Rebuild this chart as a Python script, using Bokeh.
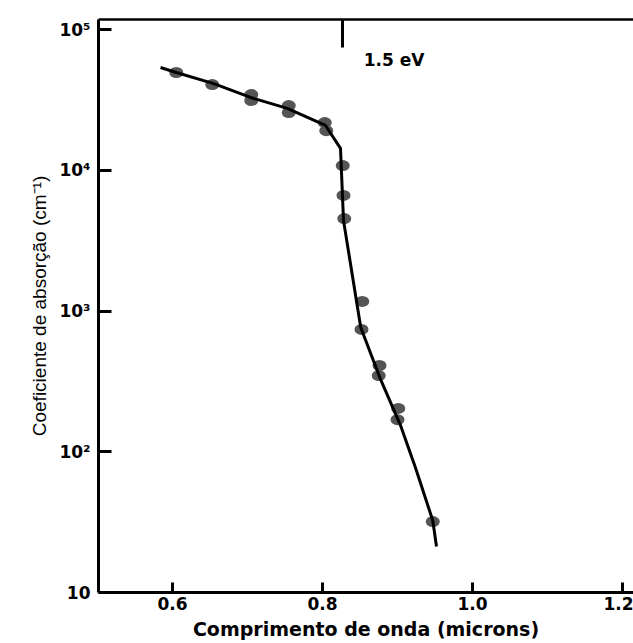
from bokeh.plotting import figure
from bokeh.models import LinearAxis, FixedTicker, Range1d, Label, NumeralTickFormatter
from bokeh.embed import file_html
from bokeh.resources import INLINE

# ---- data ----
pts_x = [0.605, 0.653, 0.705, 0.705, 0.755, 0.755, 0.803, 0.805,
         0.827, 0.828, 0.829, 0.853, 0.852, 0.876, 0.875, 0.901, 0.900, 0.947]
pts_y = [49500, 40600, 34500, 31300, 28800, 25700, 21800, 19100,
         10800, 6620, 4540, 1170, 740, 410, 348, 203, 169, 31.9]

curve_x = [0.584, 0.605, 0.655, 0.704, 0.753, 0.804, 0.824, 0.828,
           0.851, 0.877, 0.904, 0.924, 0.947, 0.952]
curve_y = [53700, 49500, 41300, 32900, 27500, 20800, 14300, 4400,
           764, 331, 154, 77, 32.5, 21.2]

x_ticks = [0.6, 0.8, 1.0, 1.2]
y_ticks = [10, 100, 1000, 10000, 100000]
y_tick_labels = ["10", "10²", "10³", "10⁴", "10⁵"]
ev_tick = 0.827
ev_label = "1.5 eV"

x_title = "Comprimento de onda (microns)"
y_title = "Coeficiente de absorção (cm⁻¹)"

# ---- figure ----
X0, X1 = 0.5013, 1.2147
Y0, Y1 = 10, 117800

p = figure(width=633, height=643, y_axis_type="log",
           x_range=Range1d(X0, X1), y_range=Range1d(Y0, Y1),
           output_backend="svg", toolbar_location=None,
           min_border_left=98, min_border_right=0,
           min_border_top=19, min_border_bottom=51)
p.grid.visible = False
p.outline_line_color = None
p.background_fill_color = "white"
p.border_fill_color = "white"

BOLD = "DejaVu Sans"

xa = p.xaxis[0]
xa.ticker = FixedTicker(ticks=x_ticks)
xa.formatter = NumeralTickFormatter(format="0.0")
xa.minor_tick_line_color = None
xa.major_tick_in = 10
xa.major_tick_out = 0
xa.major_tick_line_width = 3
xa.axis_line_width = 3
xa.major_label_text_font = BOLD
xa.major_label_text_font_style = "bold"
xa.major_label_text_font_size = "17px"
xa.major_label_text_color = "black"
xa.major_label_standoff = 4
xa.axis_label = x_title
xa.axis_label_text_font = BOLD
xa.axis_label_text_font_style = "bold"
xa.axis_label_text_font_size = "19px"
xa.axis_label_text_color = "black"
xa.axis_label_standoff = 5

ya = p.yaxis[0]
ya.ticker = FixedTicker(ticks=y_ticks)
ya.minor_tick_line_color = None
ya.major_tick_in = 13
ya.major_tick_out = 0
ya.major_tick_line_width = 3
ya.axis_line_width = 3
ya.major_label_overrides = dict(zip(y_ticks, y_tick_labels))
ya.major_label_text_font = BOLD
ya.major_label_text_font_style = "bold"
ya.major_label_text_font_size = "17px"
ya.major_label_text_color = "black"
ya.major_label_standoff = 8
ya.axis_label = y_title
ya.axis_label_text_font = "Liberation Sans"
ya.axis_label_text_font_style = "normal"
ya.axis_label_text_font_size = "19px"
ya.axis_label_text_color = "black"
ya.axis_label_standoff = 6

top = LinearAxis(ticker=FixedTicker(ticks=[ev_tick]),
                 major_tick_in=28, major_tick_out=0, major_tick_line_width=3,
                 axis_line_width=2.5, minor_tick_line_color=None,
                 major_label_text_font_size="1px", major_label_standoff=0)
top.major_label_overrides = {ev_tick: ""}
p.add_layout(top, "above")

p.add_layout(Label(x=ev_tick, y=Y1, text=ev_label, x_offset=21, y_offset=-40,
                   text_align="left", text_baseline="middle",
                   text_font=BOLD, text_font_style="bold",
                   text_font_size="17px", text_color="black"))

p.ellipse(pts_x, pts_y, width=14, height=11, width_units="screen",
          height_units="screen", fill_color="#555555", line_color=None)
p.line(curve_x, curve_y, line_width=3, line_color="black")

open("out.html", "w").write(file_html(p, INLINE, title="chart"))
